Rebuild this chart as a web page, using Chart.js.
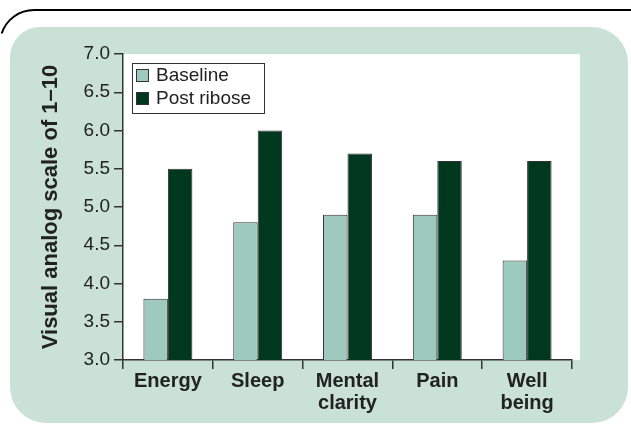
<!DOCTYPE html>
<html>
<head>
<meta charset="utf-8">
<script src="https://cdn.jsdelivr.net/npm/chart.js@4.4.1/dist/chart.umd.min.js"></script>
<style>
  html, body { margin: 0; padding: 0; background: #fff; }
  #marco { width: 631px; height: 425px; position: relative; }
</style>
</head>
<body>
<div id="marco"><canvas id="grafico"></canvas></div>
<script>
// --- Datos ---
const categorias = [['Energy'], ['Sleep'], ['Mental', 'clarity'], ['Pain'], ['Well', 'being']];
const baseline = [3.8, 4.8, 4.9, 4.9, 4.3];
const postRibose = [5.5, 6.0, 5.7, 5.6, 5.6];
const ticksY = [3.0, 3.5, 4.0, 4.5, 5.0, 5.5, 6.0, 6.5, 7.0];

const FUENTE = '"Liberation Sans", Arial, sans-serif';
const VERDE_FONDO = '#c9e1d7';
const GRIS = '#333333';

// Fondo: línea negra superior, panel verde redondeado y área blanca
const fondo = {
    id: 'fondo',
    beforeDraw(chart) {
        const { ctx, chartArea: a } = chart;
        ctx.save();
        ctx.fillStyle = '#fff';
        ctx.fillRect(0, 0, chart.width, chart.height);

        ctx.strokeStyle = '#000';
        ctx.lineWidth = 2;
        ctx.beginPath();
        ctx.moveTo(631, 10);
        ctx.lineTo(34, 10);
        ctx.arc(34, 44, 34, -Math.PI / 2, -Math.PI * 0.9, true);
        ctx.stroke();

        ctx.fillStyle = VERDE_FONDO;
        ctx.beginPath();
        ctx.roundRect(10, 27, 618, 396, [30, 36, 36, 36]);
        ctx.fill();

        ctx.fillStyle = '#fff';
        ctx.fillRect(a.left, a.top, a.right - a.left + 8, a.bottom - a.top);
        ctx.restore();
    }
};

// Leyenda con marco dentro del área del gráfico
const leyenda = {
    id: 'leyenda',
    afterDraw(chart) {
        const { ctx, chartArea: a } = chart;
        const x0 = a.left + 9, y0 = a.top + 9;
        const ancho = 132, alto = 50;
        ctx.save();
        ctx.fillStyle = '#fff';
        ctx.fillRect(x0, y0, ancho, alto);
        ctx.strokeStyle = GRIS;
        ctx.lineWidth = 1;
        ctx.strokeRect(x0 + 0.5, y0 + 0.5, ancho, alto);
        ctx.font = '19px ' + FUENTE;
        ctx.textBaseline = 'middle';
        chart.data.datasets.forEach((ds, i) => {
            const yc = y0 + 12 + i * 23;
            ctx.fillStyle = ds.backgroundColor;
            ctx.fillRect(x0 + 4, yc - 6, 13, 13);
            ctx.strokeStyle = ds.borderColor;
            ctx.strokeRect(x0 + 4.5, yc - 5.5, 12, 12);
            ctx.fillStyle = '#222';
            ctx.fillText(ds.label, x0 + 24, yc + 1);
        });
        ctx.restore();
    }
};

new Chart(document.getElementById('grafico'), {
    type: 'bar',
    data: {
        labels: categorias,
        datasets: [
            {
                label: 'Baseline',
                data: baseline,
                backgroundColor: '#9ecabd',
                borderColor: GRIS,
                borderWidth: 1,
                categoryPercentage: 0.545,
                barPercentage: 1.0
            },
            {
                label: 'Post ribose',
                data: postRibose,
                backgroundColor: '#00381f',
                borderColor: GRIS,
                borderWidth: 1,
                categoryPercentage: 0.545,
                barPercentage: 1.0
            }
        ]
    },
    options: {
        responsive: true,
        maintainAspectRatio: false,
        animation: false,
        layout: { padding: { left: 10, top: 54, right: 59, bottom: 0 } },
        plugins: {
            legend: { display: false },
            tooltip: { enabled: false }
        },
        scales: {
            x: {
                grid: { drawOnChartArea: false, offset: true, tickLength: 9, color: GRIS, lineWidth: 1.5 },
                border: { color: GRIS, width: 1.5 },
                ticks: {
                    color: '#222',
                    padding: 1,
                    maxRotation: 0,
                    autoSkip: false,
                    font: { family: FUENTE, size: 20, weight: 'bold', lineHeight: 1.1 }
                },
                afterFit: s => { s.height = 65; }
            },
            y: {
                min: 3,
                max: 7,
                afterBuildTicks: s => { s.ticks = ticksY.map(v => ({ value: v })); },
                grid: { drawOnChartArea: false, tickLength: 9, color: GRIS, lineWidth: 1.5 },
                border: { color: GRIS, width: 1.5 },
                ticks: {
                    color: '#222',
                    padding: 4,
                    callback: v => Number(v).toFixed(1),
                    font: { family: FUENTE, size: 19 }
                },
                title: {
                    display: true,
                    text: 'Visual analog scale of 1–10',
                    color: '#222',
                    padding: { top: 28, bottom: 0 },
                    font: { family: FUENTE, size: 22, weight: 'bold' }
                },
                afterFit: s => { s.width = 113; }
            }
        }
    },
    plugins: [fondo, leyenda]
});
</script>
</body>
</html>
